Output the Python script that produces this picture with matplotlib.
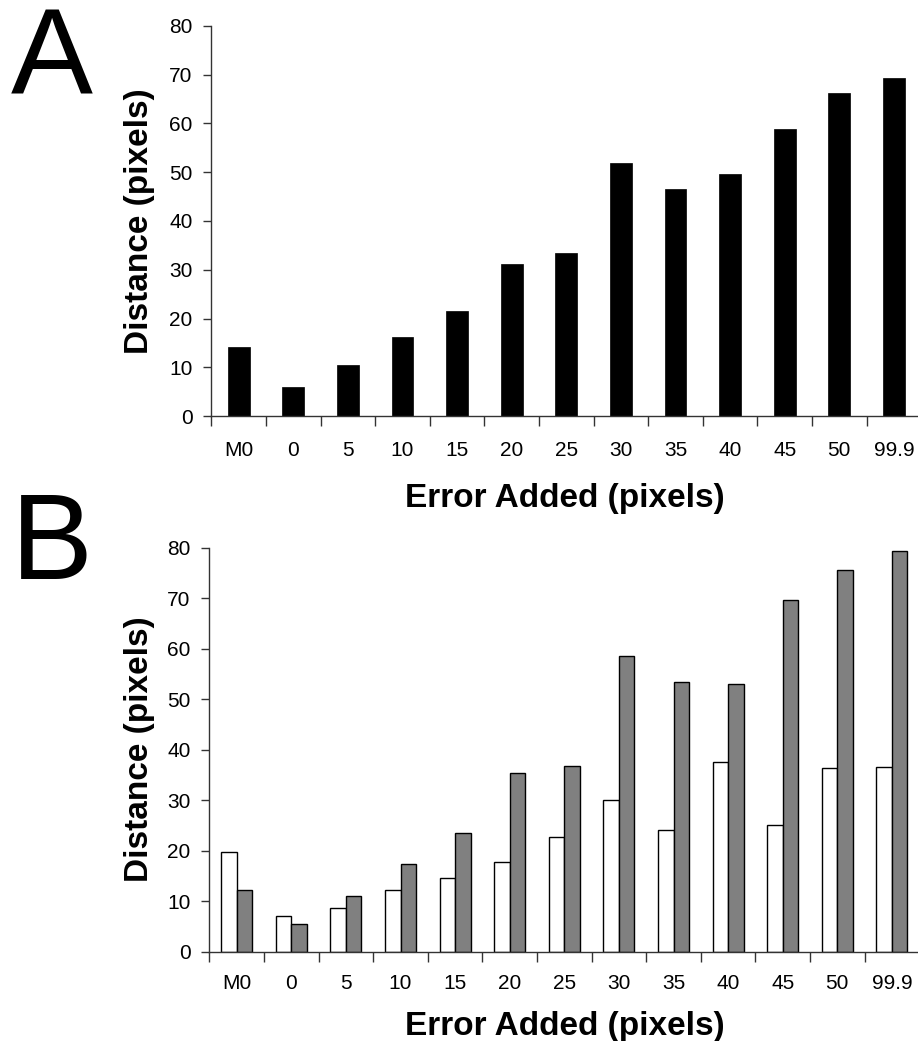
import matplotlib
matplotlib.use("Agg")
import matplotlib.pyplot as plt
import numpy as np

plt.rcParams['font.family'] = ['Liberation Sans', 'DejaVu Sans']

categories = ["M0", "0", "5", "10", "15", "20", "25", "30", "35", "40", "45", "50", "99.9"]
dist_a = [14.1, 6.1, 10.5, 16.2, 21.5, 31.2, 33.4, 51.8, 46.5, 49.6, 58.9, 66.2, 69.2]
dist_b_white = [19.8, 7.1, 8.7, 12.2, 14.6, 17.7, 22.8, 30.0, 24.1, 37.5, 25.0, 36.4, 36.6]
dist_b_gray = [12.3, 5.5, 11.0, 17.3, 23.5, 35.3, 36.7, 58.5, 53.4, 53.0, 69.7, 75.6, 79.4]
yticks = [0, 10, 20, 30, 40, 50, 60, 70, 80]

W, H = 918, 1041
fig = plt.figure(figsize=(W / 100, H / 100), dpi=100)

axis_color = "#333333"


def px_axes(x0, x1, ytop, ybot):
    return fig.add_axes([x0 / W, (H - ybot) / H, (x1 - x0) / W, (ybot - ytop) / H])


def style(ax, tickpad, xlabel_top):
    x = np.arange(len(categories))
    ax.set_xlim(-0.5, len(categories) - 0.5)
    ax.set_ylim(0, 80)
    ax.set_yticks(yticks)
    ax.set_xticks(x)
    ax.set_xticklabels(categories)
    ax.set_xticks(np.arange(len(categories) + 1) - 0.5, minor=True)
    ax.tick_params(axis='x', which='major', length=0, pad=tickpad, labelsize=15, colors='black')
    ax.tick_params(axis='x', which='minor', length=7, width=1, direction='out', color=axis_color)
    ax.tick_params(axis='y', length=6, width=1, direction='out', pad=7.5, labelsize=15,
                   color=axis_color, labelcolor='black')
    for s in ['top', 'right']:
        ax.spines[s].set_visible(False)
    for s in ['left', 'bottom']:
        ax.spines[s].set_color(axis_color)
        ax.spines[s].set_linewidth(1)
    ax.set_ylabel("Distance (pixels)", fontsize=24, fontweight='bold')
    ax.set_xlabel("Error Added (pixels)", fontsize=24, fontweight='bold')
    pos = ax.get_position()
    ax.yaxis.set_label_coords(155 / W, pos.y0 + pos.height / 2, transform=fig.transFigure)
    ax.xaxis.set_label_coords(565 / W, (H - xlabel_top) / H, transform=fig.transFigure)


# Panel A
axA = px_axes(211.4, 921.2, 25.7, 416.3)
xA = np.arange(len(categories))
axA.bar(xA, dist_a, width=0.4, color='black', edgecolor='black', linewidth=0.5)
style(axA, tickpad=18, xlabel_top=483)

# Panel B
axB = px_axes(209.4, 919.2, 547.5, 951.7)
xB = np.arange(len(categories))
bw = 0.284
axB.bar(xB - bw / 2, dist_b_white, width=bw, color='white', edgecolor='black', linewidth=1)
axB.bar(xB + bw / 2, dist_b_gray, width=bw, color='#808080', edgecolor='black', linewidth=1)
style(axB, tickpad=16.3, xlabel_top=1011)

fig.text(11 / W, (H - 95) / H, "A", fontsize=88.5, ha='left', va='baseline')
fig.text(11 / W, (H - 579) / H, "B", fontsize=88.5, ha='left', va='baseline')

fig.savefig("out.png", dpi=100)
